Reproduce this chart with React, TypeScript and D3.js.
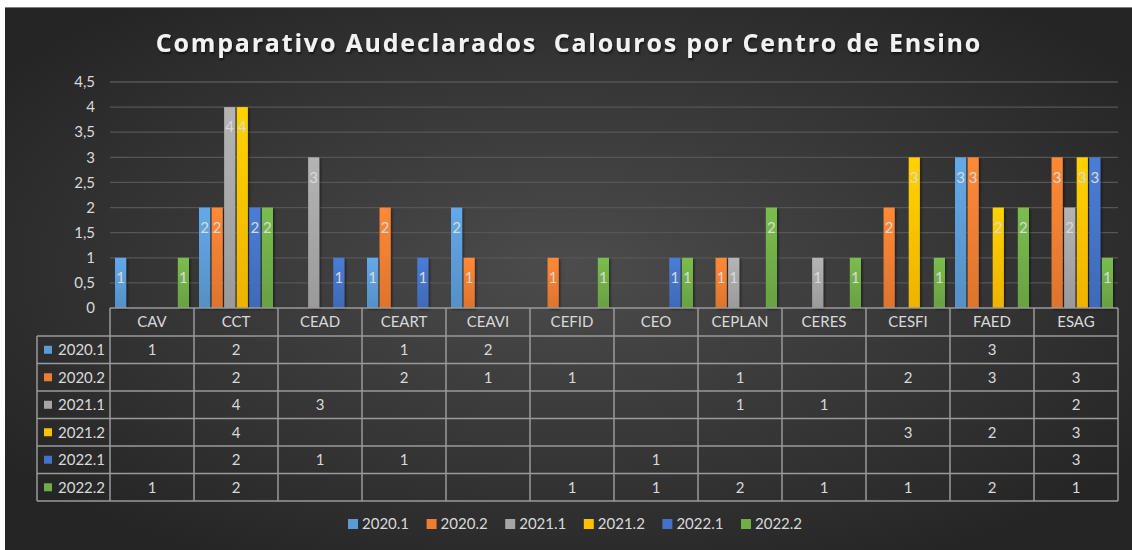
import * as d3 from "d3";
import React from "react";

const categories = ["CAV", "CCT", "CEAD", "CEART", "CEAVI", "CEFID", "CEO", "CEPLAN", "CERES", "CESFI", "FAED", "ESAG"];
const seriesNames = ["2020.1", "2020.2", "2021.1", "2021.2", "2022.1", "2022.2"];
const s20201 = [1, 2, null, 1, 2, null, null, null, null, null, 3, null];
const s20202 = [null, 2, null, 2, 1, 1, null, 1, null, 2, 3, 3];
const s20211 = [null, 4, 3, null, null, null, null, 1, 1, null, null, 2];
const s20212 = [null, 4, null, null, null, null, null, null, null, 3, 2, 3];
const s20221 = [null, 2, 1, 1, null, null, 1, null, null, null, null, 3];
const s20222 = [1, 2, null, null, null, 1, 1, 2, 1, 1, 2, 1];
const yTicks = [0, 0.5, 1, 1.5, 2, 2.5, 3, 3.5, 4, 4.5];
const colors = ["#5b9bd5", "#ed7d31", "#a5a5a5", "#ffc000", "#4472c4", "#70ad47"];
const title = "Comparativo Audeclarados  Calouros por Centro de Ensino";

const seriesValues: (number | null)[][] = [s20201, s20202, s20211, s20212, s20221, s20222];

const W = 1132;
const H = 550;
const plot = { left: 110, right: 1118, top: 82, bottom: 308 };
const rowH = 27.5;
const headerH = 28;
const tableLeft = 37;
const textColor = "#d9d9d9";
const lineColor = "#9a9a9a";
const font = "Lato, 'Open Sans', sans-serif";

const fmt = (v: number) => String(v).replace(".", ",");

export default function App() {
  const x0 = d3.scaleBand().domain(categories).range([plot.left, plot.right]);
  const x1 = d3
    .scaleBand()
    .domain(seriesNames)
    .range([5, x0.bandwidth() - 5])
    .paddingInner(0.11);
  const y = d3.scaleLinear().domain([0, 4.5]).range([plot.bottom, plot.top]);

  const tableTop = plot.bottom;
  const rowTop = (i: number) => tableTop + headerH + i * rowH;
  const tableBottom = rowTop(seriesNames.length);

  const legendX = d3.scalePoint().domain(seriesNames).range([348, 741]);

  return (
    <div style={{ position: "fixed", left: 0, top: 0 }}>
      <svg width={W} height={H} style={{ display: "block", background: "#fff" }}>
        <defs>
          <radialGradient id="bg" cx="50%" cy="48%" r="62%">
            <stop offset="0%" stopColor="#4c4c4c" />
            <stop offset="100%" stopColor="#252525" />
          </radialGradient>
          {colors.map((c, i) => (
            <linearGradient key={i} id={`g${i}`} x1="0" y1="0" x2="0" y2="1">
              <stop offset="0%" stopColor={d3.color(c)!.brighter(0.25).toString()} />
              <stop offset="100%" stopColor={d3.color(c)!.darker(0.2).toString()} />
            </linearGradient>
          ))}
          <filter id="sh" x="-30%" y="-10%" width="160%" height="130%">
            <feDropShadow dx="1.5" dy="1.5" stdDeviation="1.2" floodColor="#000" floodOpacity="0.45" />
          </filter>
          <filter id="tsh" x="-5%" y="-30%" width="110%" height="170%">
            <feDropShadow dx="1" dy="2" stdDeviation="1.2" floodColor="#000" floodOpacity="0.6" />
          </filter>
        </defs>

        <rect x={5} y={7} width={W - 5} height={H - 7} fill="url(#bg)" />
        <line x1={5} x2={W} y1={7.5} y2={7.5} stroke="#7f7f7f" strokeWidth={1} />

        <text
          x={569}
          y={52}
          textAnchor="middle"
          fill="#f2f2f2"
          fontFamily="'Open Sans', sans-serif"
          fontWeight={700}
          fontSize={25}
          letterSpacing={1.8}
          filter="url(#tsh)"
          style={{ whiteSpace: "pre" }}
        >
          {title}
        </text>

        {/* grid */}
        {yTicks.slice(1).map((t) => (
          <line key={t} x1={plot.left} x2={plot.right} y1={y(t)} y2={y(t)} stroke="#565656" strokeWidth={1.3} />
        ))}
        {yTicks.map((t) => (
          <text key={t} x={95} y={y(t)} dy="0.35em" textAnchor="end" fill={textColor} fontFamily={font} fontSize={15}>
            {fmt(t)}
          </text>
        ))}

        {/* bars */}
        {categories.map((cat, ci) => (
          <g key={cat} transform={`translate(${x0(cat)},0)`}>
            {seriesNames.map((s, si) => {
              const v = seriesValues[si][ci];
              if (v == null) return null;
              const bx = x1(s)!;
              return (
                <g key={s}>
                  <rect
                    x={bx}
                    y={y(v)}
                    width={x1.bandwidth()}
                    height={y(0) - y(v)}
                    fill={`url(#g${si})`}
                    filter="url(#sh)"
                  />
                  <text
                    x={bx + x1.bandwidth() / 2}
                    y={y(v) + 20}
                    dy="0.35em"
                    textAnchor="middle"
                    fill={textColor}
                    fontFamily={font}
                    fontSize={15}
                  >
                    {v}
                  </text>
                </g>
              );
            })}
          </g>
        ))}

        {/* data table */}
        <g stroke={lineColor} strokeWidth={1.5} fill="none">
          <line x1={plot.left} x2={plot.right} y1={tableTop} y2={tableTop} />
          {seriesNames.map((s, i) => (
            <line key={s} x1={tableLeft} x2={plot.right} y1={rowTop(i)} y2={rowTop(i)} />
          ))}
          <line x1={tableLeft} x2={plot.right} y1={tableBottom} y2={tableBottom} />
          <line x1={tableLeft} x2={tableLeft} y1={rowTop(0)} y2={tableBottom} />
          {categories.map((c) => (
            <line key={c} x1={x0(c)!} x2={x0(c)!} y1={tableTop} y2={tableBottom} />
          ))}
          <line x1={plot.right} x2={plot.right} y1={tableTop} y2={tableBottom} />
        </g>
        {categories.map((c) => (
          <text
            key={c}
            x={x0(c)! + x0.bandwidth() / 2}
            y={tableTop + headerH / 2}
            dy="0.35em"
            textAnchor="middle"
            fill={textColor}
            fontFamily={font}
            fontSize={15}
          >
            {c}
          </text>
        ))}
        {seriesNames.map((s, si) => (
          <g key={s}>
            <rect x={44} y={rowTop(si) + rowH / 2 - 4} width={8} height={8} fill={colors[si]} />
            <text x={58} y={rowTop(si) + rowH / 2} dy="0.35em" fill={textColor} fontFamily={font} fontSize={15}>
              {s}
            </text>
            {categories.map((c, ci) => {
              const v = seriesValues[si][ci];
              if (v == null) return null;
              return (
                <text
                  key={c}
                  x={x0(c)! + x0.bandwidth() / 2}
                  y={rowTop(si) + rowH / 2}
                  dy="0.35em"
                  textAnchor="middle"
                  fill={textColor}
                  fontFamily={font}
                  fontSize={15}
                >
                  {v}
                </text>
              );
            })}
          </g>
        ))}

        {/* legend */}
        {seriesNames.map((s, i) => (
          <g key={s} transform={`translate(${legendX(s)},524)`}>
            <rect x={0} y={-5} width={10} height={10} fill={colors[i]} />
            <text x={14} y={0} dy="0.35em" fill={textColor} fontFamily={font} fontSize={15}>
              {s}
            </text>
          </g>
        ))}
      </svg>
    </div>
  );
}
